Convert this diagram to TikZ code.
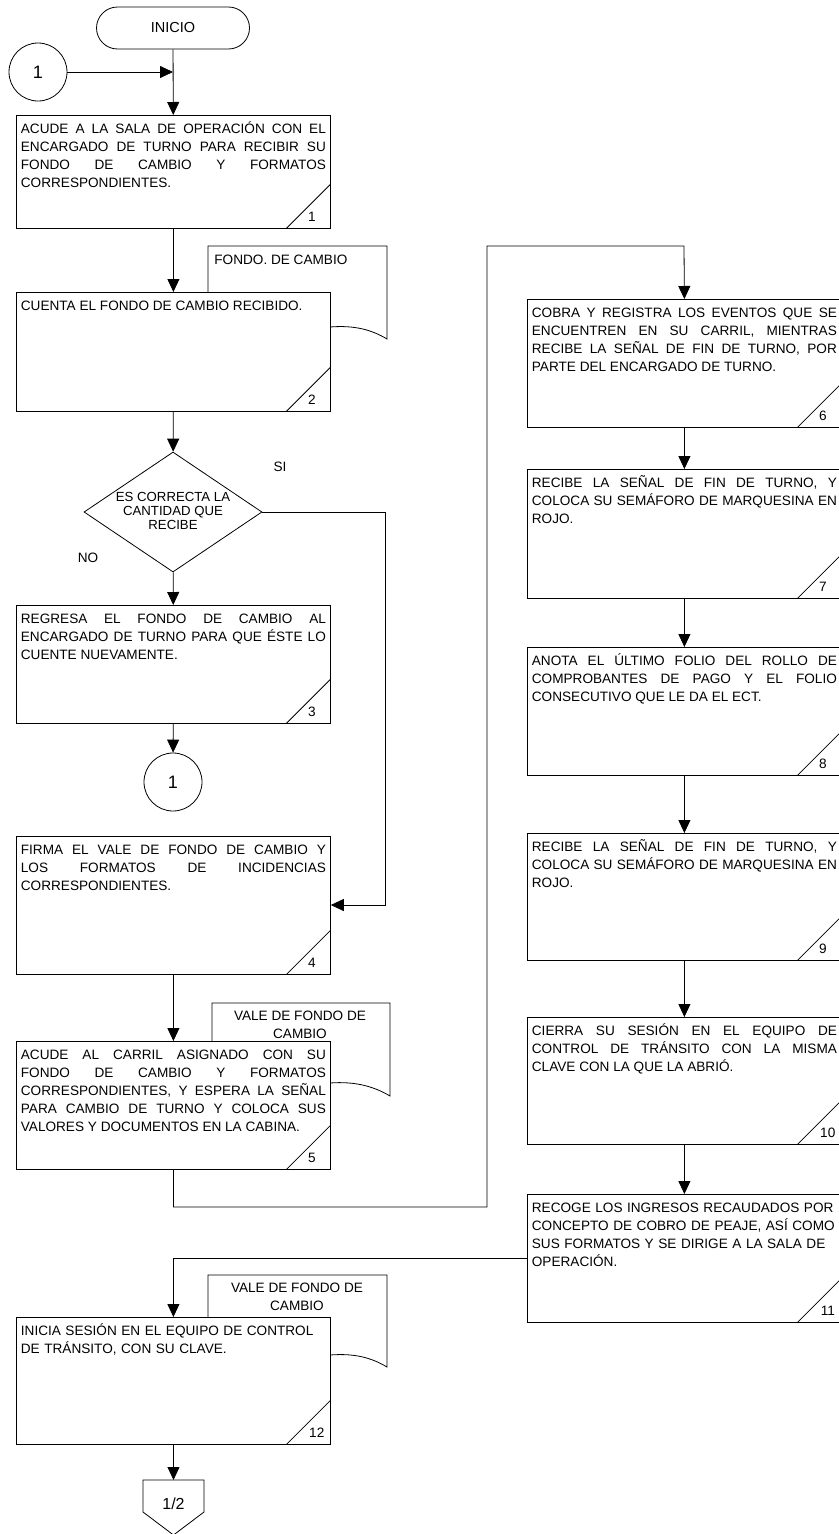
\documentclass[tikz,border=0pt]{standalone}
\usepackage{fontspec}
\setmainfont{Liberation Sans}
\usetikzlibrary{arrows.meta,shapes.geometric}
\setlength{\parindent}{0pt}

\begin{document}
\begin{tikzpicture}[x=1pt,y=-1pt,line width=0.8pt,
  flecha/.style={-{Triangle[length=13pt,width=12pt]}},
  paso/.style={draw, fill=white, anchor=north west, minimum width=314pt, inner sep=0pt,
    path picture={\draw (path picture bounding box.south east) ++(-44pt,0pt) -- ++(44pt,44pt);}},
  txt/.style={anchor=north west, text width=305pt, align=justify, inner xsep=4.5pt, inner ysep=5.5pt,
    font=\fontsize{13.6}{18}\selectfont, execute at begin node=\rule{0pt}{13pt}},
  num/.style={inner sep=0pt, font=\fontsize{13.6}{16}\selectfont},
  etiq/.style={inner sep=0pt, font=\fontsize{13.6}{18}\selectfont, align=center},
  conector/.style={circle, draw, fill=white, minimum size=58pt, inner sep=0pt, font=\fontsize{18}{20}\selectfont},
  decision/.style={diamond, draw, fill=white, minimum width=178pt, minimum height=120pt, inner sep=0pt},
  docu/.style={draw, fill=white}]
\useasboundingbox (0,0) rectangle (838,1534);

% inicio
\node[draw, rounded corners=21pt, minimum width=153pt, minimum height=42pt, font=\fontsize{14.5}{17}\selectfont] (inicio) at (173,28) {INICIO};
\node[conector] (c0) at (38,72) {1};

% columna izquierda
\node[paso, minimum height=113pt] (b1) at (16,115) {};
\node[txt] (t1) at (b1.north west) {ACUDE A LA SALA DE OPERACIÓN CON EL\linebreak ENCARGADO DE TURNO PARA RECIBIR SU\linebreak FONDO DE CAMBIO Y FORMATOS\linebreak CORRESPONDIENTES.};

\draw[docu] (208,300) -- (208,246) -- (387,246) -- (387,339) .. controls (372,330) and (355,325) .. (330,327) -- (300,327) -- cycle;
\node[etiq, anchor=west] (d1) at (214,260) {FONDO. DE CAMBIO};
\node[paso, minimum height=119pt] (b2) at (16,292) {};
\node[txt] (t2) at (b2.north west) {CUENTA EL FONDO DE CAMBIO RECIBIDO.};

\node[decision] (dec) at (173,512) {};
\node[etiq, font=\fontsize{13.2}{14}\selectfont] (dq) at (173,511) {ES CORRECTA LA\\CANTIDAD QUE\\RECIBE};
\node[etiq] (si) at (280,467) {SI};
\node[etiq] (no) at (88,558) {NO};

\node[paso, minimum height=118pt] (b3) at (16,605) {};
\node[txt] (t3) at (b3.north west) {REGRESA EL FONDO DE CAMBIO AL\linebreak ENCARGADO DE TURNO PARA QUE ÉSTE LO\linebreak CUENTE NUEVAMENTE.};
\node[conector] (c1) at (173,782) {1};

\node[paso, minimum height=138pt] (b4) at (16,836) {};
\node[txt] (t4) at (b4.north west) {FIRMA EL VALE DE FONDO DE CAMBIO Y\linebreak LOS FORMATOS DE INCIDENCIAS\linebreak CORRESPONDIENTES.};

\draw[docu] (212,1060) -- (212,1003) -- (390,1003) -- (390,1096) .. controls (375,1087) and (356,1081) .. (330,1083) -- (300,1083) -- cycle;
\node[etiq] (d2) at (300,1025) {VALE DE FONDO DE\\CAMBIO};
\node[paso, minimum height=128pt] (b5) at (16,1041) {};
\node[txt] (t5) at (b5.north west) {ACUDE AL CARRIL ASIGNADO CON SU\linebreak FONDO DE CAMBIO Y FORMATOS\linebreak CORRESPONDIENTES, Y ESPERA LA SEÑAL\linebreak PARA CAMBIO DE TURNO Y COLOCA SUS\linebreak VALORES Y DOCUMENTOS EN LA CABINA.};

% columna derecha
\node[paso, minimum height=128pt] (b6) at (527,299) {};
\node[txt] (t6) at (b6.north west) {COBRA Y REGISTRA LOS EVENTOS QUE SE\linebreak ENCUENTREN EN SU CARRIL, MIENTRAS\linebreak RECIBE LA SEÑAL DE FIN DE TURNO, POR\linebreak PARTE DEL ENCARGADO DE TURNO.};
\node[paso, minimum height=129pt] (b7) at (527,469) {};
\node[txt] (t7) at (b7.north west) {RECIBE LA SEÑAL DE FIN DE TURNO, Y\linebreak COLOCA SU SEMÁFORO DE MARQUESINA EN\linebreak ROJO.};
\node[paso, minimum height=128pt] (b8) at (527,647) {};
\node[txt] (t8) at (b8.north west) {ANOTA EL ÚLTIMO FOLIO DEL ROLLO DE\linebreak COMPROBANTES DE PAGO Y EL FOLIO\linebreak CONSECUTIVO QUE LE DA EL ECT.};
\node[paso, minimum height=127pt] (b9) at (527,833) {};
\node[txt] (t9) at (b9.north west) {RECIBE LA SEÑAL DE FIN DE TURNO, Y\linebreak COLOCA SU SEMÁFORO DE MARQUESINA EN\linebreak ROJO.};
\node[paso, minimum height=127pt] (b10) at (527,1017) {};
\node[txt] (t10) at (b10.north west) {CIERRA SU SESIÓN EN EL EQUIPO DE\linebreak CONTROL DE TRÁNSITO CON LA MISMA\linebreak CLAVE CON LA QUE LA ABRIÓ.};
\node[paso, minimum height=128pt] (b11) at (527,1194) {};
\node[txt, align=left] (t11) at (b11.north west) {RECOGE LOS INGRESOS RECAUDADOS POR\\CONCEPTO DE COBRO DE PEAJE, ASÍ COMO\\SUS FORMATOS Y SE DIRIGE A LA SALA DE\\OPERACIÓN.};

% cierre
\draw[docu] (208,1330) -- (208,1275) -- (387,1275) -- (387,1367) .. controls (372,1358) and (355,1353) .. (330,1355) -- (300,1355) -- cycle;
\node[etiq] (d3) at (297,1297) {VALE DE FONDO DE\\CAMBIO};
\node[paso, minimum height=127pt] (b12) at (16,1317) {};
\node[txt, align=left] (t12) at (b12.north west) {INICIA SESIÓN EN EL EQUIPO DE CONTROL\\DE TRÁNSITO, CON SU CLAVE.};

\draw[fill=white] (143,1480) -- (204,1480) -- (204,1512) -- (173.5,1535) -- (143,1512) -- cycle;
\coordinate (op) at (173.5,1480);
\node[etiq, font=\fontsize{16}{18}\selectfont] (opt) at (173.5,1504) {1/2};

% numeros de paso
\node[num] (n1) at ([shift={(-19pt,12pt)}]b1.south east) {1};
\node[num] (n2) at ([shift={(-19pt,12pt)}]b2.south east) {2};
\node[num] (n3) at ([shift={(-19pt,12pt)}]b3.south east) {3};
\node[num] (n4) at ([shift={(-19pt,12pt)}]b4.south east) {4};
\node[num] (n5) at ([shift={(-19pt,12pt)}]b5.south east) {5};
\node[num] (n6) at ([shift={(-19pt,12pt)}]b6.south east) {6};
\node[num] (n7) at ([shift={(-19pt,12pt)}]b7.south east) {7};
\node[num] (n8) at ([shift={(-19pt,12pt)}]b8.south east) {8};
\node[num] (n9) at ([shift={(-19pt,12pt)}]b9.south east) {9};
\node[num] (n10) at ([shift={(-14pt,12pt)}]b10.south east) {10};
\node[num] (n11) at ([shift={(-14pt,12pt)}]b11.south east) {11};
\node[num] (n12) at ([shift={(-14pt,12pt)}]b12.south east) {12};

% flechas
\coordinate (k1) at (385,905);
\coordinate (k2) at (487,1207);
\coordinate (k3) at (684,246);
\draw[flecha] (inicio) -- (b1);
\draw[flecha] (c0) -- (c0 -| inicio);
\draw[flecha] (b1) -- (b2);
\draw[flecha] (b2) -- (dec);
\draw[flecha] (dec) -- (b3);
\draw[flecha] (b3) -- (c1);
\draw[flecha] (dec.east) -| (k1) -- (k1 -| b4.east);
\draw[flecha] (b4) -- (b5);
\draw[flecha] (b5.south) |- (k2) |- (k3) -- (b6.north);
\draw[flecha] (b6) -- (b7);
\draw[flecha] (b7) -- (b8);
\draw[flecha] (b8) -- (b9);
\draw[flecha] (b9) -- (b10);
\draw[flecha] (b10) -- (b11);
\draw[flecha] (b11.west) -| (b12.north);
\draw[flecha] (b12) -- (op);
\end{tikzpicture}
\end{document}
